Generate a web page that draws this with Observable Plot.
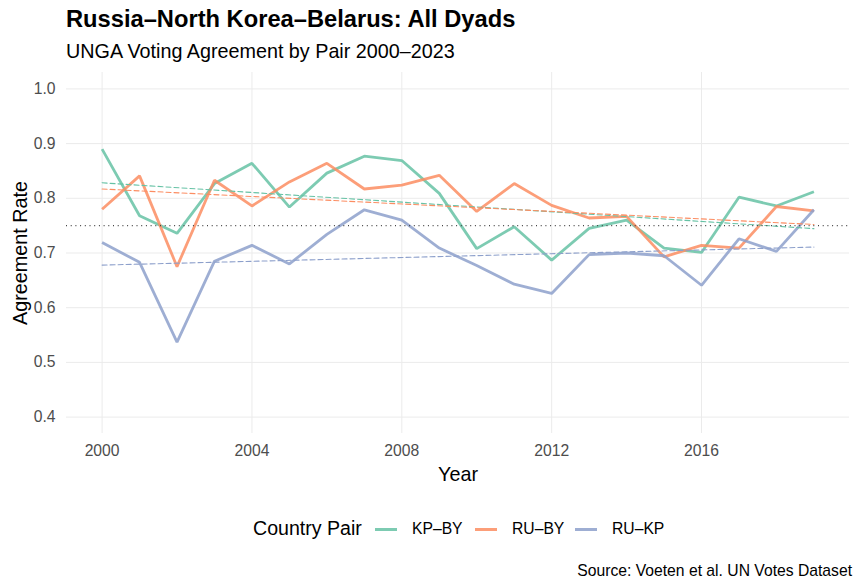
<!DOCTYPE html>
<html>
<head>
<meta charset="utf-8">
<script src="https://cdn.jsdelivr.net/npm/d3@7"></script>
<script src="https://cdn.jsdelivr.net/npm/@observablehq/plot@0.6"></script>
<style>
  html, body { margin: 0; padding: 0; background: #fff; }
  #wrap { position: relative; width: 862px; height: 588px; overflow: hidden; font-family: "Liberation Sans", Arial, sans-serif; background: #fff; }
  #wrap > svg { position: absolute; left: 0; top: 0; }
  .t { position: absolute; line-height: 1; white-space: nowrap; color: #000; }
  .key { position: absolute; height: 3px; width: 22px; }
</style>
</head>
<body>
<div id="wrap">
  <div class="t" id="title" style="left:66px; top:7.6px; font-size:23.7px; font-weight:bold;">Russia–North Korea–Belarus: All Dyads</div>
  <div class="t" id="subtitle" style="left:66px; top:41.6px; font-size:19.75px;">UNGA Voting Agreement by Pair 2000–2023</div>
  <div id="legend"></div>
  <div class="t" id="caption" style="right:10px; top:562.7px; font-size:15.7px;">Source: Voeten et al. UN Votes Dataset</div>
</div>
<script>
// ---- data ----
const years = [2000,2001,2002,2003,2004,2005,2006,2007,2008,2009,2010,2011,2012,2013,2014,2015,2016,2017,2018,2019];
const pairs = ["KP–BY", "RU–BY", "RU–KP"];
const pairColors = ["#66C2A5", "#FC8D62", "#8DA0CB"];
const kpBy = [0.890,0.768,0.736,0.827,0.864,0.784,0.846,0.877,0.869,0.809,0.708,0.748,0.687,0.745,0.760,0.709,0.701,0.802,0.786,0.812];
const ruBy = [0.780,0.841,0.675,0.833,0.786,0.830,0.864,0.817,0.824,0.842,0.776,0.827,0.787,0.764,0.767,0.693,0.714,0.709,0.785,0.777];
const ruKp = [0.719,0.683,0.537,0.685,0.714,0.680,0.734,0.779,0.760,0.709,0.677,0.643,0.626,0.697,0.700,0.695,0.641,0.726,0.703,0.779];
const referenceLevel = [0.75];
const xTicks = [2000, 2004, 2008, 2012, 2016];
const yTicks = [0.4, 0.5, 0.6, 0.7, 0.8, 0.9, 1.0];
const xTitle = "Year";
const yTitle = "Agreement Rate";
const legendTitle = "Country Pair";

// long table built from the arrays
const seriesValues = [kpBy, ruBy, ruKp];
const rows = [];
pairs.forEach((p, i) => years.forEach((yr, j) => rows.push({pair: p, year: yr, rate: seriesValues[i][j]})));

const font = '"Liberation Sans", Arial, sans-serif';

const chart = Plot.plot({
  width: 862,
  height: 493,
  marginTop: 72,
  marginBottom: 60,
  marginLeft: 66,
  marginRight: 13,
  style: {fontFamily: font, fontSize: "15.6px", background: "transparent", color: "#4D4D4D"},
  x: {domain: [1999.05, 2019.95]},
  y: {domain: [0.37, 1.03]},
  color: {domain: pairs, range: pairColors},
  marks: [
    Plot.gridY({ticks: yTicks, stroke: "#EBEBEB", strokeOpacity: 1, strokeWidth: 1}),
    Plot.gridX({ticks: xTicks, stroke: "#EBEBEB", strokeOpacity: 1, strokeWidth: 1}),
    Plot.axisY({ticks: yTicks, tickSize: 0, tickPadding: 11, tickFormat: d3.format(".1f"), label: null, fill: "#4D4D4D", fontSize: 15.7}),
    Plot.axisX({ticks: xTicks, tickSize: 0, tickPadding: 11, tickFormat: d => String(d), label: null, fill: "#4D4D4D", fontSize: 15.7}),
    Plot.line(rows, {x: "year", y: "rate", z: "pair", stroke: "pair", strokeWidth: 2.8, strokeOpacity: 0.85, strokeLinejoin: "miter", strokeLinecap: "butt"}),
    Plot.linearRegressionY(rows, {x: "year", y: "rate", z: "pair", stroke: "pair", ci: 0, strokeWidth: 1.1, strokeDasharray: "5,3"}),
    Plot.ruleY(referenceLevel, {stroke: "#444444", strokeWidth: 1.1, strokeDasharray: "1,3.7"}),
    Plot.text([xTitle], {frameAnchor: "bottom", textAnchor: "middle", dy: 40.8, lineAnchor: "middle", text: d => d, fontSize: 19.75, fill: "#000"}),
    Plot.text([yTitle], {frameAnchor: "left", textAnchor: "middle", dx: -46, rotate: -90, lineAnchor: "middle", text: d => d, fontSize: 19.75, fill: "#000"})
  ]
});
document.getElementById("wrap").insertBefore(chart, document.getElementById("title"));

// legend built from the arrays
const legend = document.getElementById("legend");
const lt = document.createElement("div");
lt.className = "t";
lt.style.cssText = "left:253px; top:519.4px; font-size:19.6px;";
lt.textContent = legendTitle;
legend.appendChild(lt);
const keyLefts = [375, 475, 575];
pairs.forEach((p, i) => {
  const k = document.createElement("div");
  k.className = "key";
  k.style.cssText = `left:${keyLefts[i]}px; top:527.5px; background:${pairColors[i]}; opacity:0.85;`;
  legend.appendChild(k);
  const lab = document.createElement("div");
  lab.className = "t";
  lab.style.cssText = `left:${keyLefts[i] + 37}px; top:521.3px; font-size:15.7px;`;
  lab.textContent = p;
  legend.appendChild(lab);
});
</script>
</body>
</html>
